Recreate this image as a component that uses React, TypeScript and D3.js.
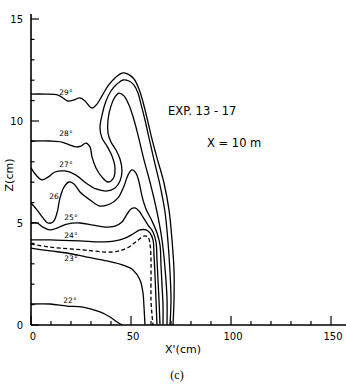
import React from 'react';
import * as d3 from 'd3';

const W = 346;
const H = 387;

const xMajorTicks = [0, 50, 100, 150];
const yMajorTicks = [0, 5, 10, 15];
const xMinorTicks = d3.range(0, 151, 10);
const yMinorTicks = d3.range(0, 16, 1);

// isotherms [X' cm, Z cm]
const c29: [number, number][] = [[0,11.32],[7,11.32],[13.5,11.27],[16,11.13],[18.5,10.98],[21.5,11.03],[24.5,11.13],[27,10.98],[29.5,10.69],[31,10.64],[33,10.83],[35.5,11.23],[38.5,11.72],[42,12.11],[45.5,12.35],[48.5,12.3],[51.5,12.06],[54,11.57],[56,10.93],[58,10.15],[60,9.31],[63,8.19],[66.5,6.96],[69,5.64],[70.5,4.17],[71.5,2.7],[71.5,1.23],[71,0]];
const c28: [number, number][] = [[0,9.02],[9.5,9.02],[15.5,8.97],[19.5,8.82],[22.5,8.73],[25,8.77],[27.5,8.92],[29.5,8.73],[30.5,8.24],[32.5,7.7],[35.5,7.25],[38.5,7.01],[41,7.16],[42,7.7],[40.5,8.28],[38,8.77],[35.5,9.17],[34.5,9.66],[35.5,10.29],[37.5,10.98],[40,11.47],[43,11.81],[46,12.01],[49,11.96],[51.5,11.76],[53.5,11.37],[55,10.83],[57,10.05],[59,9.17],[61.5,8.09],[64.5,6.86],[67,5.54],[68.5,4.07],[69.5,2.6],[70,1.23],[69.5,0]];
const c27: [number, number][] = [[0,7.7],[2.5,7.35],[5.5,7.11],[8.5,7.25],[12,7.5],[17,7.55],[22.5,7.35],[27.5,6.96],[32.5,6.67],[38,6.57],[42,6.72],[44.5,7.06],[45.5,7.55],[44.5,8.14],[42.5,8.58],[40,8.97],[38.5,9.41],[38.5,10.05],[40,10.74],[42,11.18],[44,11.37],[46.5,11.23],[49,10.78],[51.5,10.05],[53.5,9.31],[56.5,8.09],[60,6.81],[63,5.54],[65.5,4.17],[67,2.79],[68,1.32],[68,0]];
const c26: [number, number][] = [[0,5.98],[3,5.64],[6,5.25],[8.5,5.0],[11,5.05],[13,5.49],[14.5,6.23],[16.5,6.76],[19,7.01],[21.5,6.91],[24.5,6.52],[29.5,6.13],[34.5,5.83],[39.5,5.93],[43.5,6.23],[46.5,6.81],[48.5,7.35],[50.5,7.6],[52.5,7.45],[54,7.01],[55.5,6.32],[57.5,5.69],[60.5,5.1],[63,4.51],[64.5,3.92],[65,2.94],[65.5,1.96],[66,0.98],[66,0]];
const c25: [number, number][] = [[0,5.0],[3,5.0],[6,4.8],[9.5,4.66],[13,4.75],[18,4.95],[24.5,5.0],[31,4.9],[37,4.8],[42,4.85],[45.5,5.05],[48,5.44],[50,5.69],[52,5.74],[54,5.59],[56,5.29],[58.5,4.9],[61,4.56],[62.5,4.07],[63,3.19],[63.5,2.21],[64,1.23],[64.5,0]];
const c24: [number, number][] = [[0,4.17],[9.5,4.17],[24.5,4.12],[34.5,4.07],[42,4.12],[47,4.26],[51,4.46],[54.5,4.66],[57.5,4.66],[59.5,4.51],[61,4.17],[61.5,3.43],[62,2.45],[62.5,1.23],[63,0]];
const cDash: [number, number][] = [[0,3.97],[9.5,3.82],[26,3.68],[41,3.58],[48,3.77],[53,4.12],[56.5,4.36],[58.5,4.31],[59.5,3.97],[60,3.19],[60,2.21],[60,1.23],[60.5,0.49],[61,0]];
const c23: [number, number][] = [[0,3.77],[9.5,3.63],[18,3.53],[28,3.33],[38,3.14],[46,2.94],[51,2.7],[54.5,2.21],[56,1.57],[56.5,0.88],[57,0]];
const c22: [number, number][] = [[0,1.03],[9.5,1.03],[18,0.93],[26,0.88],[34.5,0.64],[39.5,0.39],[43,0.15],[45.5,0]];

const isotherms = [
  { pts: c29, dashed: false },
  { pts: c28, dashed: false },
  { pts: c27, dashed: false },
  { pts: c26, dashed: false },
  { pts: c25, dashed: false },
  { pts: c24, dashed: false },
  { pts: cDash, dashed: true },
  { pts: c23, dashed: false },
  { pts: c22, dashed: false },
];

const labelTexts = ['29°', '28°', '27°', '26', '25°', '24°', '23°', '22°'];
const labelX = [17.5, 17.5, 17.5, 11.5, 20, 20, 20, 19.5];
const labelZ = [11.4, 9.4, 7.85, 6.32, 5.25, 4.41, 3.28, 1.2];

export default function App() {
  const x = d3.scaleLinear().domain([0, 150]).range([31, 331]);
  const y = d3.scaleLinear().domain([0, 15]).range([325, 19]);
  const line = d3
    .line<[number, number]>()
    .x((d) => x(d[0]))
    .y((d) => y(d[1]))
    .curve(d3.curveCatmullRom.alpha(0.5));

  const font = "'DejaVu Sans', 'Liberation Sans', sans-serif";

  return (
    <svg
      width={W}
      height={H}
      style={{ position: 'absolute', left: 0, top: 0, background: '#fff' }}
    >
      <rect x={0} y={0} width={W} height={H} fill="#fff" />
      {/* axes */}
      <line x1={x(0)} x2={x(0)} y1={y(0)} y2={y(15.25)} stroke="#000" strokeWidth={1.6} />
      <line x1={x(0)} x2={x(157.5)} y1={y(0)} y2={y(0)} stroke="#000" strokeWidth={1.6} />
      {yMinorTicks.map((t) => (
        <line key={'ym' + t} x1={x(0)} x2={x(0) + (yMajorTicks.includes(t) ? 8 : 3.5)} y1={y(t)} y2={y(t)} stroke="#000" strokeWidth={1.2} />
      ))}
      {xMinorTicks.map((t) => (
        <line key={'xm' + t} x1={x(t)} x2={x(t)} y1={y(0)} y2={y(0) - (xMajorTicks.includes(t) ? 9 : 4)} stroke="#000" strokeWidth={1.2} />
      ))}
      {yMajorTicks.map((t) => (
        <text key={'yl' + t} x={x(0) - 8} y={y(t)} textAnchor="end" dominantBaseline="central" fontFamily={font} fontSize={10}>
          {t}
        </text>
      ))}
      {xMajorTicks.map((t) => (
        <text key={'xl' + t} x={x(t) + 2} y={y(0) + 11} textAnchor="middle" dominantBaseline="central" fontFamily={font} fontSize={10}>
          {t}
        </text>
      ))}
      <text x={183} y={349} textAnchor="middle" dominantBaseline="central" fontFamily={font} fontSize={11}>
        X'(cm)
      </text>
      <text transform="translate(9,175) rotate(-90)" textAnchor="middle" dominantBaseline="central" fontFamily={font} fontSize={11}>
        Z(cm)
      </text>
      <text x={177} y={375} textAnchor="middle" dominantBaseline="central" fontFamily="'Liberation Serif', serif" fontSize={12}>
        (c)
      </text>
      <text x={168} y={111} dominantBaseline="central" fontFamily={font} fontSize={11.5}>
        EXP. 13 - 17
      </text>
      <text x={207} y={143} dominantBaseline="central" fontFamily={font} fontSize={11.5}>
        X = 10 m
      </text>
      {/* isotherms */}
      {isotherms.map((c, i) => (
        <path
          key={'c' + i}
          d={line(c.pts) || ''}
          fill="none"
          stroke="#000"
          strokeWidth={1.3}
          strokeDasharray={c.dashed ? '4 2.5' : undefined}
        />
      ))}
      {labelTexts.map((t, i) => (
        <text key={'lab' + i} x={x(labelX[i])} y={y(labelZ[i])} textAnchor="middle" dominantBaseline="central" fontFamily={font} fontSize={7.5}>
          {t}
        </text>
      ))}
    </svg>
  );
}
